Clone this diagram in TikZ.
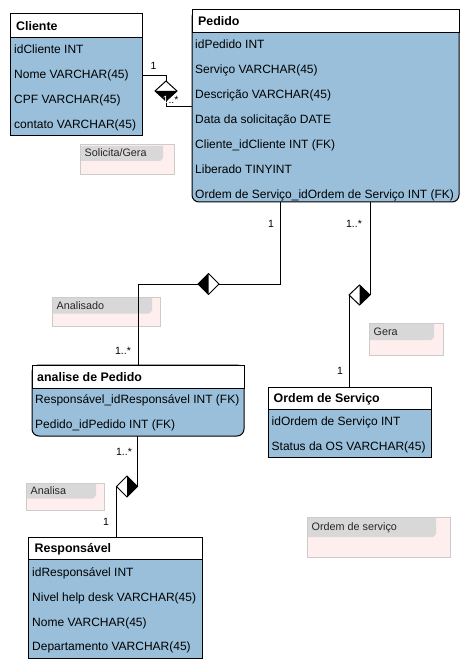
\documentclass[tikz,border=0pt]{standalone}
\usepackage{fontspec}
\setmainfont{Liberation Sans}
\usetikzlibrary{shapes.geometric}
\definecolor{bodyblue}{RGB}{153,191,218}
\definecolor{notepink}{RGB}{255,238,238}
\definecolor{notegray}{RGB}{216,216,216}
\definecolor{noteborder}{RGB}{204,204,204}
\newcommand\mynote[8]{%
  \node[notebox, minimum width=#4pt, minimum height=#5pt] (#1) at (#2,#3) {};
  \fill[notegray] ({#2+1},{#3+1}) -- ({#2+#7},{#3+1}) -- ({#2+#7},{#3+#6-3}) -- ({#2+#7-3},{#3+#6}) -- ({#2+1},{#3+#6}) -- cycle;
  \node[notetxt] at ({#2+4.5},{#3+#6/2+3.8}) {#8};
}
\begin{document}
\begin{tikzpicture}[x=1pt,y=-1pt,
  entbody/.style={draw=black, fill=bodyblue, line width=1pt, inner sep=0pt, outer sep=0pt, anchor=north west},
  enthead/.style={draw=black, fill=white, line width=1pt, inner sep=0pt, outer sep=0pt, anchor=north west},
  headtxt/.style={anchor=base west, inner sep=0pt, font=\fontsize{12.4}{14}\selectfont\bfseries},
  rowtxt/.style={anchor=base west, inner sep=0pt, font=\fontsize{12}{14}\selectfont},
  conn/.style={draw=black, line width=1pt},
  dia/.style={diamond, draw=black, fill=white, line width=1pt, inner sep=0pt, outer sep=0pt},
  mult/.style={inner sep=0pt, font=\fontsize{10.5}{12}\selectfont},
  notebox/.style={draw=noteborder, fill=notepink, line width=1pt, inner sep=0pt, outer sep=0pt, anchor=north west},
  notetxt/.style={anchor=base west, inner sep=0pt, text=black!85, font=\fontsize{10.8}{12}\selectfont}]
\useasboundingbox (0,0) rectangle (468,668);

% notes
\mynote{n1}{80}{145}{94}{30}{16}{83}{Solicita/Gera}
\mynote{n2}{52}{297}{108}{29}{16.5}{100}{Analisado}
\mynote{n3}{369}{323}{74}{32}{17}{65}{Gera}
\mynote{n4}{26}{483}{78}{27}{15.5}{70}{Analisa}
\mynote{n5}{307}{517}{143}{40}{20}{129}{Ordem de serviço}

% Cliente
\node[entbody, minimum width=132pt, minimum height=122pt] (cliente) at (10,14) {};
\node[enthead, minimum width=132pt, minimum height=23.5pt] (clienteH) at (10,14) {};
\node[headtxt] at (16,30.5) {Cliente};
\node[rowtxt] at (14,53.3) {idCliente INT};
\node[rowtxt] at (14,78.3) {Nome VARCHAR(45)};
\node[rowtxt] at (14,103.3) {CPF VARCHAR(45)};
\node[rowtxt] at (14,128.3) {contato VARCHAR(45)};

% Pedido
\node[entbody, rounded corners=7pt, minimum width=267pt, minimum height=192pt] (pedido) at (192,10) {};
\node[enthead, minimum width=267pt, minimum height=23pt] (pedidoH) at (192,10) {};
\node[headtxt] at (198,26) {Pedido};
\node[rowtxt] at (195,48.3) {idPedido INT};
\node[rowtxt] at (195,73.3) {Serviço VARCHAR(45)};
\node[rowtxt] at (195,98.3) {Descrição VARCHAR(45)};
\node[rowtxt] at (195,123.3) {Data da solicitação DATE};
\node[rowtxt] at (195,148.3) {Cliente\_idCliente INT (FK)};
\node[rowtxt] at (195,173.3) {Liberado TINYINT};
\node[rowtxt] at (195,198.3) {Ordem de Serviço\_idOrdem de Serviço INT (FK)};

% analise de Pedido
\node[entbody, rounded corners=7pt, minimum width=212pt, minimum height=71pt] (analise) at (32,365) {};
\node[enthead, minimum width=212pt, minimum height=23pt] (analiseH) at (32,365) {};
\node[headtxt] at (37,381) {analise de Pedido};
\node[rowtxt] at (35,403.8) {Responsável\_idResponsável INT (FK)};
\node[rowtxt] at (35,428.3) {Pedido\_idPedido INT (FK)};

% Ordem de Servico
\node[entbody, minimum width=163pt, minimum height=70pt] (ordem) at (268,387) {};
\node[enthead, minimum width=163pt, minimum height=22pt] (ordemH) at (268,387) {};
\node[headtxt] at (273.5,402.5) {Ordem de Serviço};
\node[rowtxt] at (271.5,425.3) {idOrdem de Serviço INT};
\node[rowtxt] at (271.5,450.3) {Status da OS VARCHAR(45)};

% Responsavel
\node[entbody, minimum width=174pt, minimum height=121pt] (resp) at (28,537) {};
\node[enthead, minimum width=174pt, minimum height=22pt] (respH) at (28,537) {};
\node[headtxt] at (34.5,552.5) {Responsável};
\node[rowtxt] at (32,576.3) {idResponsável INT};
\node[rowtxt] at (32,601.3) {Nivel help desk VARCHAR(45)};
\node[rowtxt] at (32,626.3) {Nome VARCHAR(45)};
\node[rowtxt] at (32,650.8) {Departamento VARCHAR(45)};

% diamonds
\node[dia, minimum width=22pt, minimum height=20pt] (d1) at (166,91) {};
\fill (d1.west) -- (d1.south) -- (d1.east) -- cycle;
\node[dia, minimum width=21pt, minimum height=21pt] (d2) at (208.5,284) {};
\fill (d2.north) -- (d2.west) -- (d2.south) -- cycle;
\node[dia, minimum width=21pt, minimum height=20pt] (d3) at (359.5,295) {};
\fill (d3.north) -- (d3.east) -- (d3.south) -- cycle;
\node[dia, minimum width=21pt, minimum height=21pt] (d4) at (127,486.5) {};
\fill (d4.north) -- (d4.east) -- (d4.south) -- cycle;

% connectors
\draw[conn] (cliente.east |- 0,76) -| (d1.north);
\draw[conn] (d1.south) |- (pedido.west |- 0,107);
\draw[conn] (pedido.south -| 280,0) |- (d2.east);
\draw[conn] (d2.west) -| (analise.north -| 138,0);
\draw[conn] (pedido.south -| 370,0) -- (d3.east);
\draw[conn] (d3.west) -- (d3.west |- ordem.north);
\draw[conn] (analise.south -| 137.5,0) -- (d4.east);
\draw[conn] (d4.west) -- (d4.west |- resp.north);

% multiplicities
\node[mult] (m1) at (153.5,66) {1};
\node[mult, anchor=base west] (m2) at (162.5,104) {\textcolor{white}{1}..*};
\node[mult] (m3) at (271,224) {1};
\node[mult] (m4) at (123,351) {1..*};
\node[mult] (m5) at (354,224) {1..*};
\node[mult] (m6) at (340,371) {1};
\node[mult] (m7) at (124,452) {1..*};
\node[mult] (m8) at (106,522) {1};
\end{tikzpicture}
\end{document}
